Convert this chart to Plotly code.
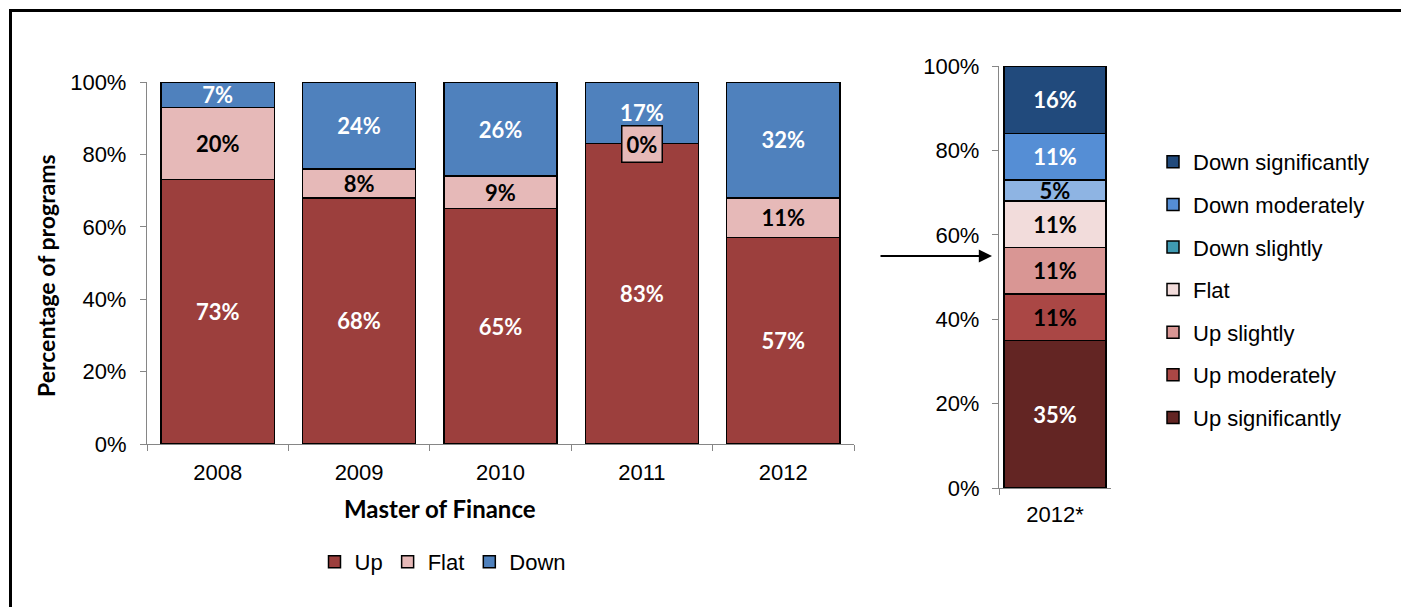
import plotly.graph_objects as go

W, H = 1401, 607

# Master of Finance: share of programs reporting each change, by year
years = ["2008", "2009", "2010", "2011", "2012"]
up = [73, 68, 65, 83, 57]
flat = [20, 8, 9, 0, 11]
down = [7, 24, 26, 17, 32]

# 2012 breakdown by size of change (stacked bottom to top)
detail_cat = ["2012*"]
detail_names = ["Up significantly", "Up moderately", "Up slightly", "Flat",
                "Down slightly", "Down moderately", "Down significantly"]
detail_values = [35, 11, 11, 11, 5, 11, 16]

pct_ticks = [0, 20, 40, 60, 80, 100]
pct_labels = [f"{t}%" for t in pct_ticks]

# styling
main_colors = {"Up": "#9C3F3D", "Flat": "#E6B9B8", "Down": "#4F81BD"}
main_text = {"Up": "white", "Flat": "black", "Down": "white"}
detail_colors = ["#632523", "#AA4745", "#D99694", "#F2DCDB",
                 "#8EB4E3", "#558ED5", "#214A7C"]
detail_text = ["white", "black", "black", "black", "black", "white", "white"]
down_slightly_key = "#3F9AB2"

LABEL_FONT = "Lato"
TICK_FONT = "Liberation Sans, Arial"
AXIS_GREY = "#868686"


def px(x):
    return x / W


def py(y):
    return 1 - y / H


fig = go.Figure()

for name, vals in [("Up", up), ("Flat", flat), ("Down", down)]:
    fig.add_trace(go.Bar(
        x=years, y=vals, name=name, width=0.8,
        xaxis="x", yaxis="y", legend="legend",
        marker=dict(color=main_colors[name], line=dict(color="black", width=1.5)),
        text=[f"{v}%" if v > 0 else "" for v in vals],
        textposition="inside", insidetextanchor="middle", textangle=0,
        constraintext="none",
        textfont=dict(family=LABEL_FONT, size=22, weight="bold", color=main_text[name]),
    ))

# zero-height segments get a boxed label on the boundary
annotations = []
for i, v in enumerate(flat):
    if v == 0:
        annotations.append(dict(
            x=i, y=up[i] + v, xref="x", yref="y", showarrow=False,
            text=f"{v}%", bgcolor=main_colors["Flat"], bordercolor="black",
            borderwidth=1.5, borderpad=4,
            font=dict(family=LABEL_FONT, size=22, weight="bold", color="black"),
        ))

rank = {n: len(detail_names) - i for i, n in enumerate(detail_names)}
for i, (name, v) in enumerate(zip(detail_names, detail_values)):
    is_down_slightly = name == "Down slightly"
    fig.add_trace(go.Bar(
        x=detail_cat, y=[v], name=name, width=0.91,
        xaxis="x2", yaxis="y2", legend="legend2",
        legendgroup=name, legendrank=rank[name],
        showlegend=not is_down_slightly,
        marker=dict(color=detail_colors[i], line=dict(color="black", width=1.5)),
        text=[f"{v}%"], textposition="inside", insidetextanchor="middle",
        textangle=0, constraintext="none",
        textfont=dict(family=LABEL_FONT, size=22, weight="bold", color=detail_text[i]),
    ))
    if is_down_slightly:
        fig.add_trace(go.Bar(
            x=detail_cat, y=[None], name=name, width=0.91,
            xaxis="x2", yaxis="y2", legend="legend2",
            legendgroup=name + " key", legendrank=rank[name],
            marker=dict(color=down_slightly_key, line=dict(color="black", width=1.5)),
        ))

# axis titles
annotations.append(dict(
    x=px(440), y=py(508), xref="paper", yref="paper", showarrow=False,
    text="Master of Finance", xanchor="center", yanchor="middle",
    font=dict(family=LABEL_FONT, size=24, weight="bold", color="black"),
))
annotations.append(dict(
    x=px(46), y=py(276), xref="paper", yref="paper", showarrow=False,
    text="Percentage of programs", textangle=-90, xanchor="center", yanchor="middle",
    font=dict(family=LABEL_FONT, size=23, weight="bold", color="black"),
))

# arrow pointing from the 2012 bar to its breakdown
annotations.append(dict(
    x=px(992), y=py(256), xref="paper", yref="paper",
    ax=-113, ay=0, text="", showarrow=True,
    arrowhead=2, arrowsize=1.2, arrowwidth=2.2, arrowcolor="black",
))

axis_common = dict(
    showline=True, linecolor=AXIS_GREY, linewidth=1.3,
    ticks="outside", tickcolor=AXIS_GREY, ticklen=6, tickwidth=1.3,
    showgrid=False, zeroline=False, automargin=False,
    tickfont=dict(family=TICK_FONT, size=22, color="black"),
)

fig.update_layout(
    width=W, height=H, autosize=False,
    margin=dict(l=0, r=0, t=0, b=0, autoexpand=False),
    paper_bgcolor="white", plot_bgcolor="white",
    barmode="stack", showlegend=True,
    xaxis=dict(domain=[px(147), px(854)], range=[-0.5, 4.5], type="category",
               tickson="boundaries", anchor="y", ticklabelstandoff=8,
               **axis_common),
    yaxis=dict(domain=[py(444), py(82)], range=[0, 100], anchor="x",
               tickmode="array", tickvals=pct_ticks, ticktext=pct_labels,
               ticklabelstandoff=9, **axis_common),
    xaxis2=dict(domain=[px(999), px(1111)], range=[-0.5, 0.5], type="category",
                tickson="boundaries", anchor="y2", ticklabelstandoff=6,
                **axis_common),
    yaxis2=dict(domain=[py(488), py(66)], range=[0, 100], anchor="x2",
                tickmode="array", tickvals=pct_ticks, ticktext=pct_labels,
                ticklabelstandoff=8, **axis_common),
    legend=dict(orientation="h", x=px(443), xanchor="center", y=py(562), yanchor="middle",
                font=dict(family=TICK_FONT, size=22, color="black"),
                bgcolor="rgba(0,0,0,0)", traceorder="normal"),
    legend2=dict(orientation="v", x=px(1153), xanchor="left", y=py(141), yanchor="top",
                 font=dict(family=TICK_FONT, size=22, color="black"),
                 bgcolor="rgba(0,0,0,0)", traceorder="grouped", tracegroupgap=11),
    annotations=annotations,
    shapes=[
        dict(type="line", xref="paper", yref="paper", x0=px(9), x1=1.0,
             y0=py(10.5), y1=py(10.5), line=dict(color="black", width=3)),
        dict(type="line", xref="paper", yref="paper", x0=px(10.5), x1=px(10.5),
             y0=py(9), y1=0, line=dict(color="black", width=3)),
    ],
)

fig.write_html("out.html")
